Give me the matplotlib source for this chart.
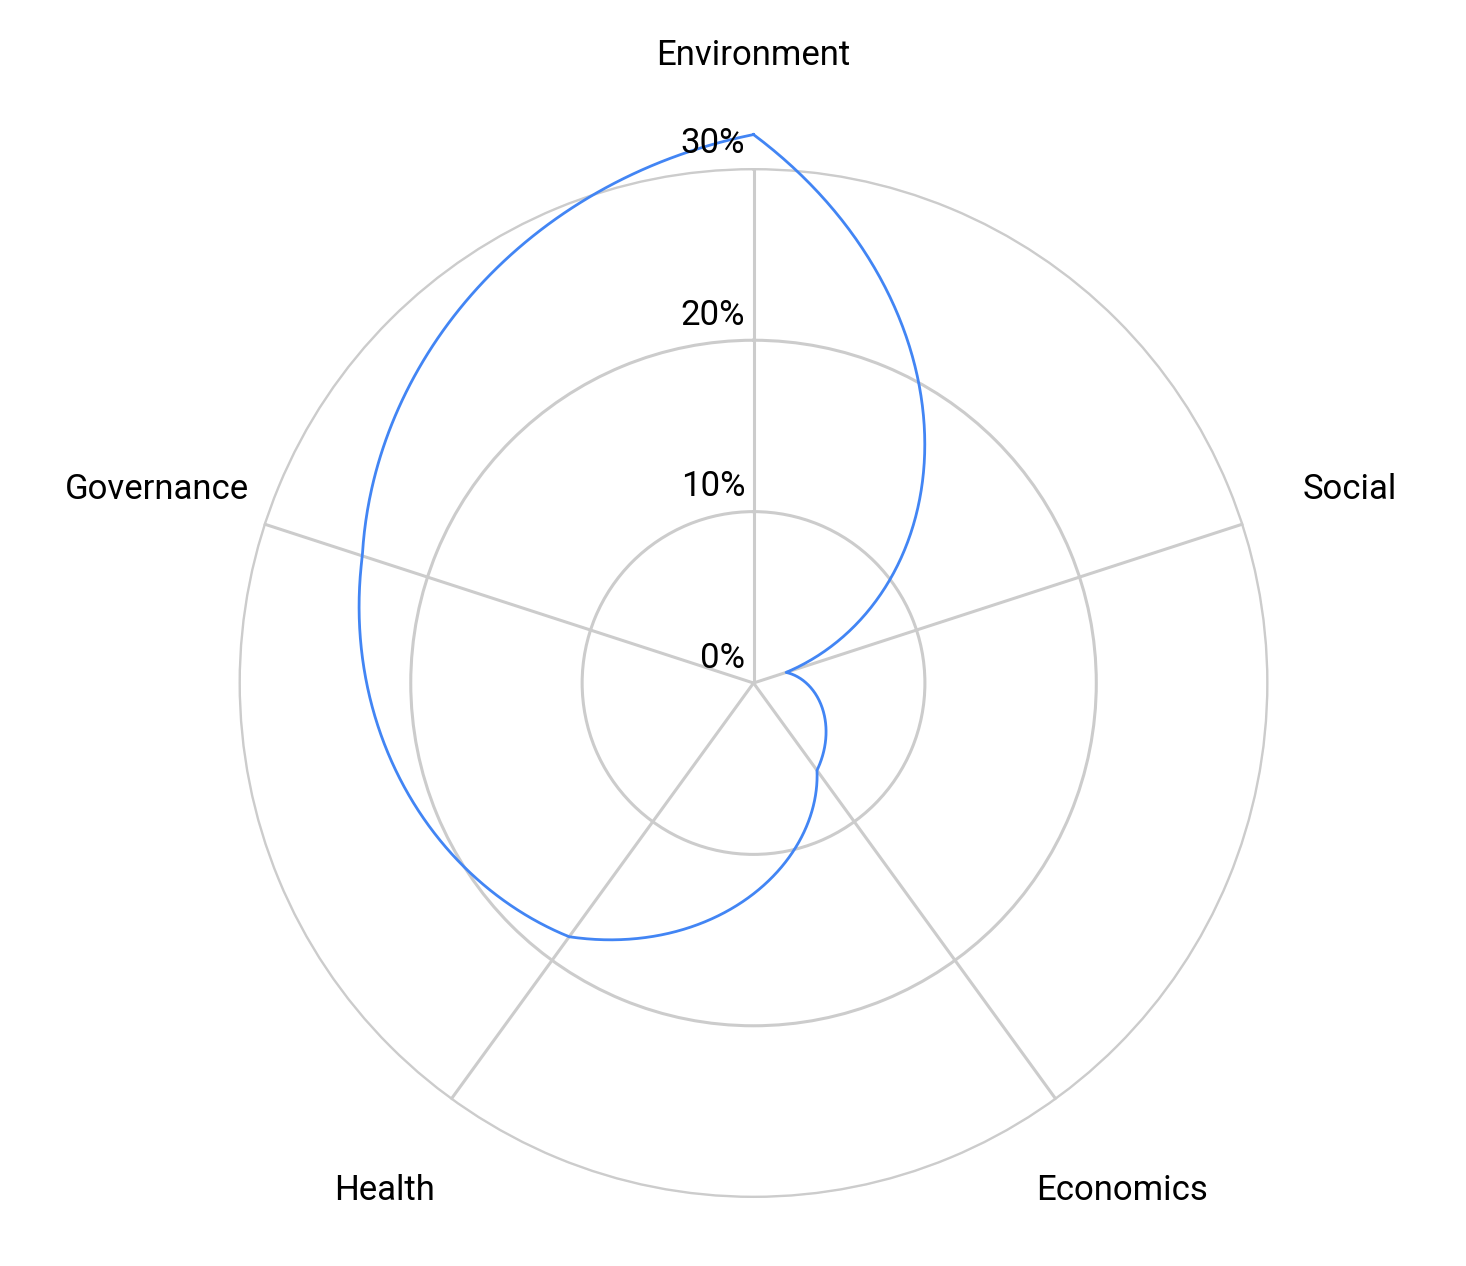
import numpy as np
import matplotlib
matplotlib.use("Agg")
import matplotlib.pyplot as plt
from matplotlib.transforms import offset_copy

categories = ["Environment", "Social", "Economics", "Health", "Governance"]
values = [32, 2, 6.3, 18.3, 24]
rticks = [0, 10, 20, 30]
rlabels = ["0%", "10%", "20%", "30%"]

plt.rcParams['font.family'] = ['Roboto', 'DejaVu Sans']
fig = plt.figure(figsize=(14.66, 12.66), dpi=100)
ax = fig.add_axes([0.514 - 0.3513, 0.4605 - 0.4068, 0.7026, 0.8136], projection='polar')
ax.set_theta_offset(np.pi / 2)
ax.set_theta_direction(-1)
ax.set_ylim(0, 30.05)
ax.spines['polar'].set_visible(False)

n = len(categories)
angles = np.arange(n) * 2 * np.pi / n
ax.set_xticks(angles)
ax.set_xticklabels([])
ax.set_yticks(rticks[1:])
ax.set_yticklabels([])
ax.grid(color='#cccccc', linewidth=2.2)

for a, c in zip(angles, categories):
    ax.text(a, 36.6, c, ha='center', va='center', fontsize=25)

tr = offset_copy(ax.transData, fig=fig, x=-6, y=18, units='points')
for r, l in zip(rticks, rlabels):
    ax.text(0, r, l, transform=tr, ha='right', va='center', fontsize=25)

th = np.concatenate([angles, [2 * np.pi]])
vv = values + [values[0]]
line, = ax.plot(th, vv, color='#4285f4', linewidth=2, clip_on=False)
line.get_path()._interpolation_steps = 200

fig.savefig("out.png", dpi=100)
